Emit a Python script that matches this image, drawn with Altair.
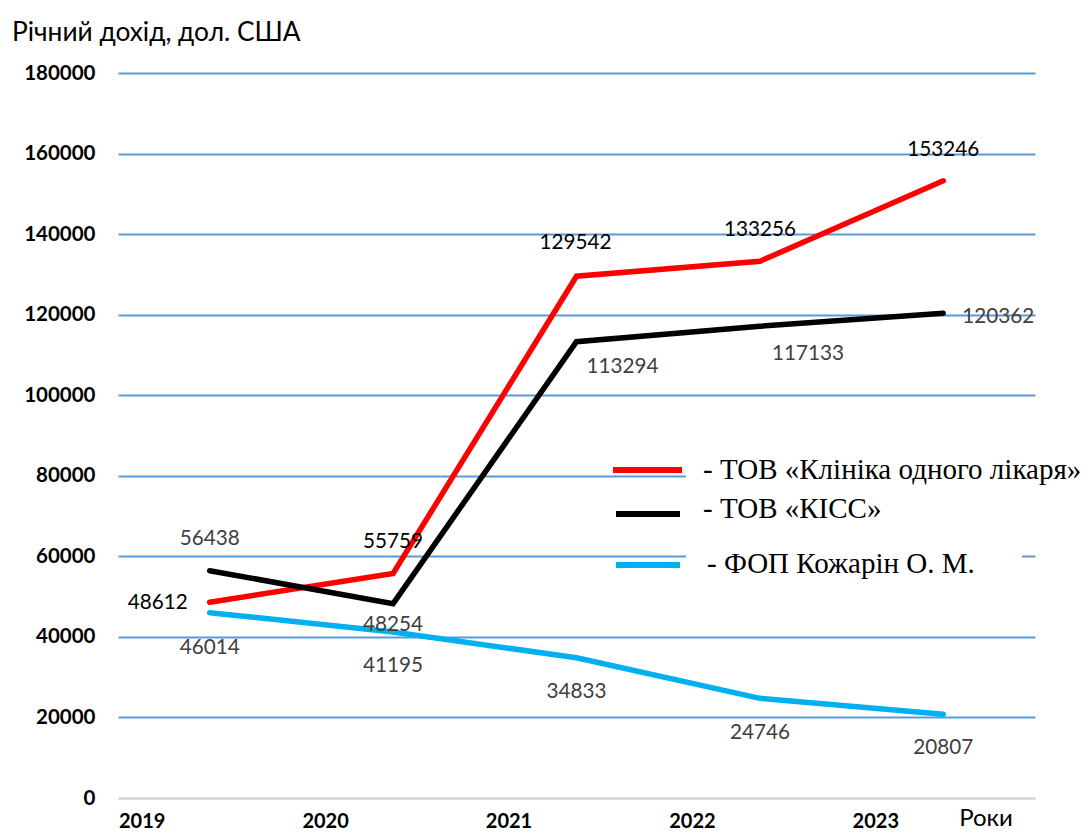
import altair as alt
import pandas as pd

# ---- data ----
years = [2019, 2020, 2021, 2022, 2023]
series_names = ["ТОВ «Клініка одного лікаря»", "ТОВ «КІСС»", "ФОП Кожарін О. М."]
clinic = [48612, 55759, 129542, 133256, 153246]
kiss = [56438, 48254, 113294, 117133, 120362]
fop = [46014, 41195, 34833, 24746, 20807]
y_ticks = [0, 20000, 40000, 60000, 80000, 100000, 120000, 140000, 160000, 180000]
legend_texts = ["- ТОВ «Клініка одного лікаря»", "- ТОВ «КІСС»", "- ФОП Кожарін О. М."]
y_title = "Річний дохід, дол. США"
x_title = "Роки"

# ---- styling ----
colors = ["#FF0000", "#000000", "#00B0F0"]
label_colors = ["#000000", "#404040", "#404040"]
# data-label offsets in pixels (dx, dy)
clinic_off = [(-52, 1), (0, -31), (-1, -33), (0, -31), (0, -31)]
kiss_off = [(0, -32), (0, 21), (46, 25), (48, 28), (55, 4)]
fop_off = [(0, 35), (0, 34), (0, 34), (0, 35), (0, 34)]

W, H = 917, 725
X_DOMAIN = [2018.5, 2023.5]
Y_DOMAIN = [0, 180000]
PX = (X_DOMAIN[1] - X_DOMAIN[0]) / W
PY = (Y_DOMAIN[1] - Y_DOMAIN[0]) / H

rows = []
for name, vals, offs in zip(series_names, [clinic, kiss, fop], [clinic_off, kiss_off, fop_off]):
    for yr, v, (dx, dy) in zip(years, vals, offs):
        rows.append({"series": name, "year": yr, "value": v,
                     "lx": yr + dx * PX, "ly": v - dy * PY})
df = pd.DataFrame(rows)

x_scale = alt.Scale(domain=X_DOMAIN, nice=False, zero=False)
y_scale = alt.Scale(domain=Y_DOMAIN, nice=False)
color_scale = alt.Scale(domain=series_names, range=colors)
label_color_scale = alt.Scale(domain=series_names, range=label_colors)

x_axis = alt.Axis(values=years, format="d", labelOffset=-68, labelFontWeight="bold",
                  labelFontSize=20, labelFont="Lato", labelColor="#000000", ticks=False,
                  domainColor="#d9d9d9", domainWidth=2.5, grid=False, title=None,
                  labelPadding=13, labelOverlap=False, labelFlush=False, labelBound=False)
y_axis = alt.Axis(values=y_ticks, format="d", labelFontWeight="bold", labelFontSize=20.5,
                  labelFont="Lato", labelColor="#000000", ticks=False, domain=False,
                  grid=True,
                  gridColor={"condition": {"test": "datum.value === 0", "value": "#d9d9d9"},
                             "value": "#5B9BD5"},
                  gridWidth=1.8, labelPadding=23, title=None, labelOverlap=False)

base = alt.Chart(df)

lines = base.mark_line(strokeWidth=5.5, strokeCap="round").encode(
    x=alt.X("year:Q", scale=x_scale, axis=x_axis),
    y=alt.Y("value:Q", scale=y_scale, axis=y_axis),
    color=alt.Color("series:N", scale=color_scale, legend=None),
    detail="series:N",
)

labels = base.mark_text(font="Lato", fontSize=20.7, baseline="middle", align="center").encode(
    x=alt.X("lx:Q", scale=x_scale),
    y=alt.Y("ly:Q", scale=y_scale),
    text=alt.Text("value:Q", format="d"),
    color=alt.Color("series:N", scale=label_color_scale, legend=None),
)

# legend background boxes (cover gridlines like text boxes in the original)
boxes_df = pd.DataFrame({"k": [0, 1]})
box1 = alt.Chart(boxes_df).transform_filter("datum.k == 0").mark_rect(color="white").encode(
    x=alt.value(686 - 118), x2=alt.value(1090 - 118), y=alt.value(455 - 73), y2=alt.value(490 - 73))
box2 = alt.Chart(boxes_df).transform_filter("datum.k == 1").mark_rect(color="white").encode(
    x=alt.value(686 - 118), x2=alt.value(1022 - 118), y=alt.value(540 - 73), y2=alt.value(585 - 73))

leg_df = pd.DataFrame({"series": series_names, "text": legend_texts})
leg_y = [470, 514, 565]
leg_x1 = [613, 616, 616]
leg_x2 = [682, 680, 680]
txt_x = [703, 703, 707]
txt_base = [479, 518, 573]

legend_layers = []
for i in range(3):
    one = alt.Chart(leg_df).transform_filter(alt.datum.series == series_names[i])
    legend_layers.append(
        one.mark_rule(strokeWidth=6, color=colors[i]).encode(
            x=alt.value(leg_x1[i] - 118), x2=alt.value(leg_x2[i] - 118), y=alt.value(leg_y[i] - 73))
    )
    legend_layers.append(
        one.mark_text(font="Liberation Serif", fontSize=29, align="left", baseline="alphabetic",
                      color="#000000").encode(
            x=alt.value(txt_x[i] - 118), y=alt.value(txt_base[i] - 73), text="text:N")
    )

title_df = pd.DataFrame({"t": [y_title]})
title_mark = alt.Chart(title_df).mark_text(font="Lato", fontSize=26.3, align="left",
                                           baseline="alphabetic", color="#000000").encode(
    x=alt.value(12 - 118), y=alt.value(41 - 73), text="t:N")

xt_df = pd.DataFrame({"t": [x_title]})
xt_mark = alt.Chart(xt_df).mark_text(font="Lato", fontSize=24, align="center",
                                     baseline="alphabetic", color="#000000").encode(
    x=alt.value(986 - 118), y=alt.value(826 - 73), text="t:N")

chart = alt.layer(lines, box1, box2, labels, *legend_layers, title_mark, xt_mark).resolve_scale(
    color="independent"
).properties(
    width=W, height=H,
    autosize=alt.AutoSizeParams(type="none"),
    padding={"left": 110, "top": 65, "right": 47, "bottom": 33},
    background="white",
).configure_view(stroke=None)

chart.save("out.html", embed_options={"renderer": "svg", "actions": False})
